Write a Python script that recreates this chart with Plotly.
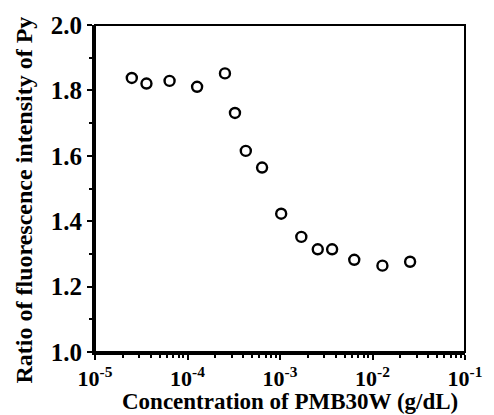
import plotly.graph_objects as go

conc = [2.5e-5, 3.6e-5, 6.4e-5, 1.27e-4, 2.54e-4, 3.26e-4, 4.27e-4, 6.4e-4,
        1.03e-3, 1.70e-3, 2.56e-3, 3.66e-3, 6.35e-3, 1.28e-2, 2.55e-2]
ratio = [1.838, 1.821, 1.829, 1.811, 1.852, 1.731, 1.615, 1.564,
         1.423, 1.352, 1.314, 1.314, 1.282, 1.264, 1.276]

x_tickvals = [1e-5, 1e-4, 1e-3, 1e-2, 1e-1]
x_ticktext = ["10<sup>-5</sup>", "10<sup>-4</sup>", "10<sup>-3</sup>", "10<sup>-2</sup>", "10<sup>-1</sup>"]
y_tickvals = [1.0, 1.2, 1.4, 1.6, 1.8, 2.0]
y_ticktext = ["1.0", "1.2", "1.4", "1.6", "1.8", "2.0"]
x_title = "Concentration of PMB30W (g/dL)"
y_title = "Ratio of fluorescence intensity of Py"

font_fam = "Liberation Serif, Times New Roman, serif"

fig = go.Figure()
fig.add_trace(go.Scatter(
    x=conc, y=ratio, mode="markers",
    marker=dict(symbol="circle-open", size=10, color="black", line=dict(width=2.4, color="black")),
    showlegend=False,
))

fig.update_layout(
    width=494, height=415,
    margin=dict(l=95, r=28, t=22, b=63),
    paper_bgcolor="white", plot_bgcolor="white",
    font=dict(family=font_fam, color="black", size=22),
    shapes=[dict(type="rect", xref="paper", yref="paper", x0=0, y0=0, x1=1, y1=1,
                 line=dict(color="black", width=2), layer="above")],
    annotations=[
        dict(text="<b>" + x_title + "</b>", xref="paper", yref="paper", x=0.5, y=0,
             xanchor="center", yanchor="middle", xshift=10, yshift=-49, showarrow=False,
             font=dict(family=font_fam, size=23, color="black")),
        dict(text="<b>" + y_title + "</b>", xref="paper", yref="paper", x=0, y=0.5,
             xanchor="center", yanchor="middle", xshift=-72, yshift=-12, textangle=-90,
             showarrow=False, font=dict(family=font_fam, size=24, color="black")),
    ],
)
fig.update_xaxes(
    type="log", range=[-5, -1],
    tickvals=x_tickvals, ticktext=x_ticktext,
    ticks="outside", ticklen=5, tickwidth=2, tickcolor="black",
    minor=dict(ticks="outside", ticklen=3, tickwidth=1.5, tickcolor="black", dtick="D1"),
    showline=True, linewidth=3, linecolor="black", mirror=False,
    showgrid=False, zeroline=False,
    tickfont=dict(family=font_fam, size=22, color="black", weight="bold"),
)
fig.update_yaxes(
    range=[1.0, 2.0],
    tickvals=y_tickvals, ticktext=y_ticktext,
    ticks="outside", ticklen=5, tickwidth=2, tickcolor="black",
    minor=dict(ticks="outside", ticklen=3, tickwidth=1.5, tickcolor="black", dtick=0.1),
    showline=True, linewidth=3, linecolor="black", mirror=False,
    showgrid=False, zeroline=False,
    tickfont=dict(family=font_fam, size=25, color="black", weight="bold"),
)

fig.write_html("out.html")
